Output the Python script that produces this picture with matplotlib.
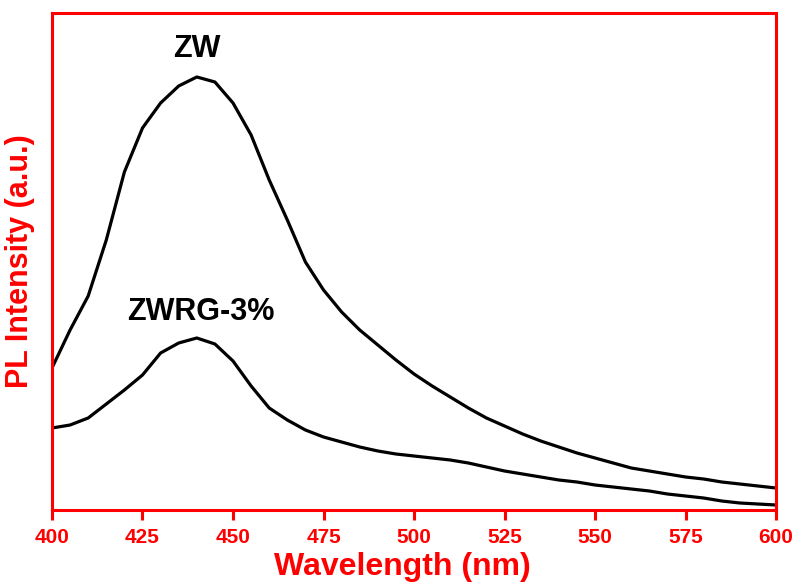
import matplotlib.pyplot as plt

plt.rcParams['font.family'] = ['Liberation Sans', 'DejaVu Sans']

wavelength = [400, 405, 410, 415, 420, 425, 430, 435, 440, 445, 450, 455, 460,
              465, 470, 475, 480, 485, 490, 495, 500, 505, 510, 515, 520, 525,
              530, 535, 540, 545, 550, 555, 560, 565, 570, 575, 580, 585, 590,
              595, 600]

zw = [142, 180, 214, 270, 338, 382, 407, 424, 433, 428, 407, 375, 330,
      290, 248, 220, 198, 180, 165, 150, 136, 124, 113, 102, 92, 84,
      76, 69, 63, 57, 52, 47, 42, 39, 36, 33, 31, 28, 26,
      24, 22]

zwrg = [82, 85, 92, 106, 120, 135, 157, 167, 172, 166, 149, 124, 102,
        90, 80, 73, 68, 63, 59, 56, 54, 52, 50, 47, 43, 39,
        36, 33, 30, 28, 25, 23, 21, 19, 16, 14, 12, 9, 7,
        6, 5]

xticks = [400, 425, 450, 475, 500, 525, 550, 575, 600]

red = '#ff0000'

fig = plt.figure(figsize=(7.96, 5.82), dpi=100)
ax = fig.add_axes([0.0653, 0.1237, 0.9097, 0.854])

ax.plot(wavelength, zw, color='black', lw=2.3)
ax.plot(wavelength, zwrg, color='black', lw=2.3)

ax.set_xlim(400, 600)
ax.set_ylim(0, 497)
ax.set_xticks(xticks)
ax.set_yticks([])

for s in ax.spines.values():
    s.set_color(red)
    s.set_linewidth(2.2)

ax.tick_params(axis='x', colors=red, length=7, width=2.2, pad=6,
               labelsize=15)
for lab in ax.get_xticklabels():
    lab.set_fontweight('bold')

ax.set_xlabel('Wavelength (nm)', color=red, fontsize=23, fontweight='bold')
ax.xaxis.set_label_coords(0.484, -0.085)
ax.set_ylabel('PL Intensity (a.u.)', color=red, fontsize=22, fontweight='bold')
ax.yaxis.set_label_coords(-0.024, 0.5)

ax.text(440, 461, 'ZW', fontsize=22, fontweight='bold', ha='center', va='center')
ax.text(441, 198, 'ZWRG-3%', fontsize=22, fontweight='bold', ha='center', va='center')

fig.savefig('out.png', dpi=100)
